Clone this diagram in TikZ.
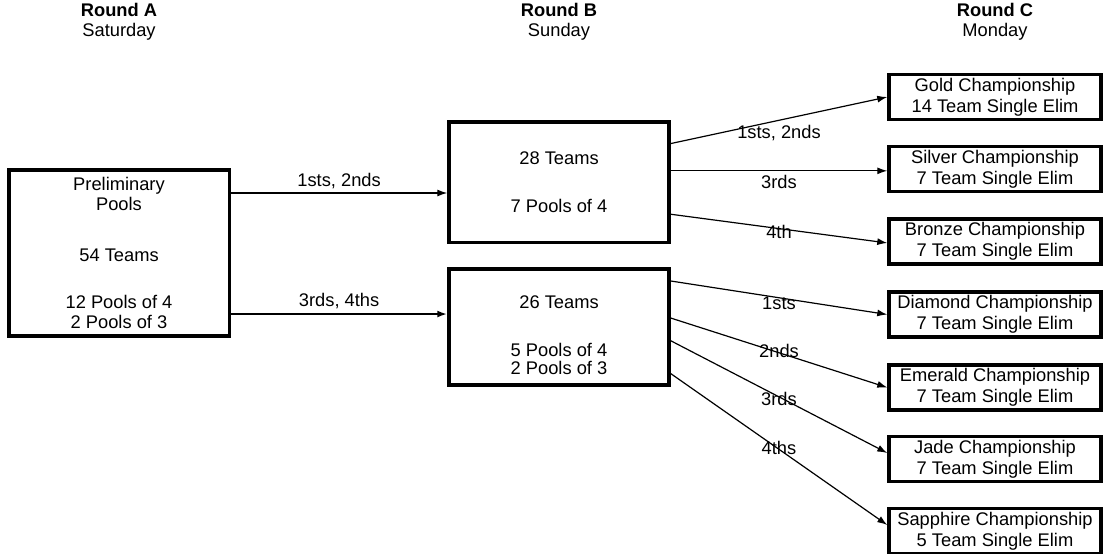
\documentclass[tikz,border=0pt]{standalone}
\usepackage{fontspec}
\setmainfont{Liberation Sans}
\usetikzlibrary{arrows.meta,calc}

\begin{document}
\begin{tikzpicture}[x=1pt,y=-1pt]
\tikzset{ >={Latex[length=10pt,width=7pt]}, inner sep=0pt,
  box/.style={draw, line width=3.5pt, align=center, font=\fontsize{18.3}{20}\selectfont},
  champ/.style={box, minimum width=212pt, minimum height=45pt, font=\fontsize{18.3}{21}\selectfont},
  lbl/.style={font=\fontsize{18.3}{21}\selectfont},
  hdr/.style={font=\fontsize{18.3}{20}\selectfont, align=center},
  link/.style={->, line width=1.2pt},
}

%\draw [lightgray, dashed](0,0) grid [step=50] (1103,554);
\useasboundingbox (0,0) rectangle (1103,554);

\node [hdr] (rA) at (119,22) {\textbf{Round A}\\Saturday};
\node [hdr] (rB) at (559,22) {\textbf{Round B}\\Sunday};
\node [hdr] (rC) at (995,22) {\textbf{Round C}\\Monday};

\node [box, minimum width=220.5pt, minimum height=166pt] (pre) at (119,253)
  {Preliminary\\Pools\\[31pt]54 Teams\\[27pt]12 Pools of 4\\2 Pools of 3};

\node [box, minimum width=220pt, minimum height=120.5pt] (tB) at (559,182)
  {28 Teams\\[28pt]7 Pools of 4};
\node [box, minimum width=220pt, minimum height=116pt] (bB) at (559,327)
  {\rule{0pt}{30pt}26 Teams\\[28pt]5 Pools of 4\\[-2pt]2 Pools of 3};

\node [champ] (gold) at (995,97)    {Gold Championship\\14 Team Single Elim};
\node [champ] (silver) at (995,169) {Silver Championship\\7 Team Single Elim};
\node [champ] (bronze) at (995,241.5) {Bronze Championship\\7 Team Single Elim};
\node [champ] (diam) at (995,314.5) {Diamond Championship\\7 Team Single Elim};
\node [champ] (emer) at (995,387.5) {Emerald Championship\\7 Team Single Elim};
\node [champ] (jade) at (995,459)   {Jade Championship\\7 Team Single Elim};
\node [champ] (saph) at (995,531)   {Sapphire Championship\\5 Team Single Elim};

% round A to round B
\coordinate (a1) at ($(pre.north east)!0.146!(pre.south east)$);
\coordinate (a2) at ($(pre.north east)!0.86!(pre.south east)$);
\draw [link] (a1) -- node [lbl, above=4pt] (la1) {1sts, 2nds} (a1 -| tB.west);
\draw [link, line width=2pt] (a2) -- node [lbl, above=4pt] (la2) {3rds, 4ths} (a2 -| bB.west);

% round B to round C
\coordinate (t1) at ($(tB.north east)!0.19!(tB.south east)$);
\coordinate (t2) at ($(tB.north east)!0.41!(tB.south east)$);
\coordinate (t3) at ($(tB.north east)!0.76!(tB.south east)$);
\coordinate (b1) at ($(bB.north east)!0.115!(bB.south east)$);
\coordinate (b2) at ($(bB.north east)!0.425!(bB.south east)$);
\coordinate (b3) at ($(bB.north east)!0.615!(bB.south east)$);
\coordinate (b4) at ($(bB.north east)!0.89!(bB.south east)$);

\draw [link] (t1) -- node [lbl, yshift=-12.5pt] (lt1) {1sts, 2nds} (gold.west);
\draw [link] (t2) -- node [lbl, yshift=-11pt] (lt2) {3rds} (t2 -| silver.west);
\draw [link] (t3) -- node [lbl, yshift=-3pt] (lt3) {4th} ($(bronze.north west)!0.53!(bronze.south west)$);
\draw [link] (b1) -- node [lbl, yshift=-5.5pt] (lb1) {1sts} (diam.west);
\draw [link] (b2) -- node [lbl, yshift=1.5pt] (lb2) {2nds} (emer.west);
\draw [link] (b3) -- node [lbl, yshift=-2pt] (lb3) {3rds} ($(jade.north west)!0.376!(jade.south west)$);
\draw [link] (b4) -- node [lbl, yshift=1.5pt] (lb4) {4ths} ($(saph.north west)!0.376!(saph.south west)$);

\end{tikzpicture}
\end{document}
